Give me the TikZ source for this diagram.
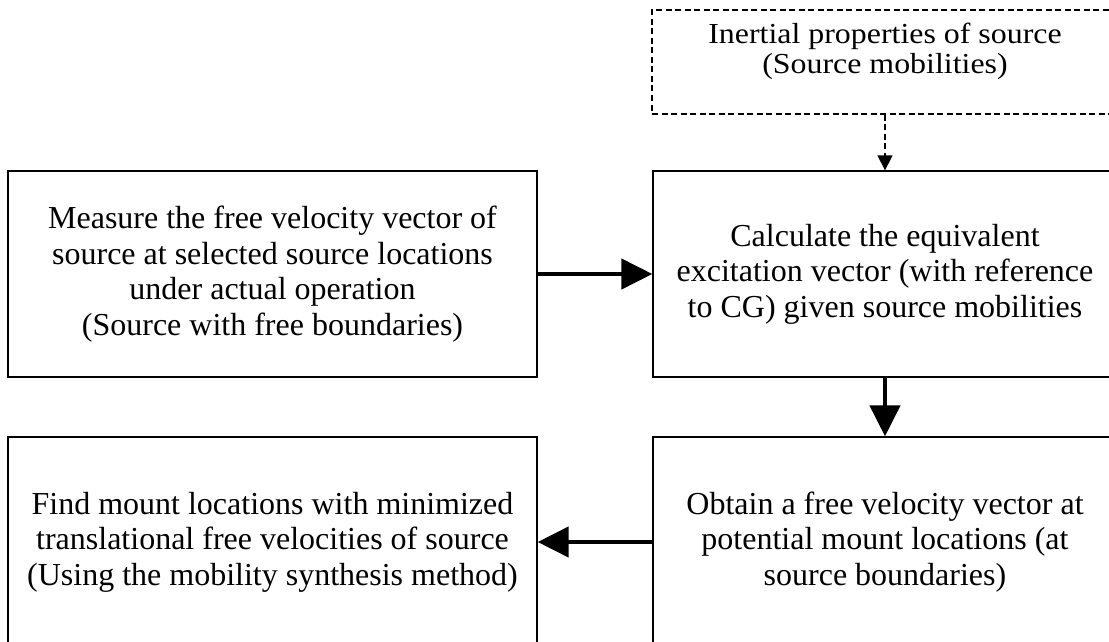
\documentclass[tikz,border=0pt]{standalone}
\usepackage{fontspec}
\setmainfont{Liberation Serif}
\newfontfamily\widefont[FakeStretch=1.1]{Liberation Serif}
\usetikzlibrary{arrows.meta}
\begin{document}
\begin{tikzpicture}[x=1pt,y=-1pt,
  box/.style={draw, line width=1.3pt, rectangle, inner sep=0pt, align=center,
    font=\fontsize{32}{35.5}\selectfont},
  dbox/.style={box, dash pattern=on 6pt off 3.5pt, font=\widefont\fontsize{29}{30.5}\selectfont},
  bigarrow/.style={line width=4.5pt, -{Triangle[length=31pt,width=30pt]}},
  smallarrow/.style={line width=1.3pt, dash pattern=on 6pt off 3.5pt, -{Triangle[length=15pt,width=15pt]}}]
\useasboundingbox (0,0) rectangle (1109,642);
\clip (0,0) rectangle (1109,642);
\node[dbox, minimum width=466pt, minimum height=104pt, text depth=27pt] (inert) at (885,62)
  {Inertial properties of source\\(Source mobilities)};
\node[box, minimum width=529pt, minimum height=206pt] (meas) at (272.5,274)
  {Measure the free velocity vector of\\source at selected source locations\\under actual operation\\(Source with free boundaries)};
\node[box, minimum width=464pt, minimum height=206pt] (calc) at (885,274)
  {Calculate the equivalent\\excitation vector (with reference\\to CG) given source mobilities};
\node[box, minimum width=529pt, minimum height=210pt] (find) at (272.5,542)
  {Find mount locations with minimized\\translational free velocities of source\\(Using the mobility synthesis method)};
\node[box, minimum width=464pt, minimum height=210pt] (obt) at (885,542)
  {Obtain a free velocity vector at\\potential mount locations (at\\source boundaries)};
\draw[smallarrow] (inert.south) -- (calc.north);
\draw[bigarrow] (meas.east) -- (calc.west);
\draw[bigarrow] (calc.south) -- (obt.north);
\draw[bigarrow] (obt.west) -- (find.east);
\end{tikzpicture}
\end{document}
